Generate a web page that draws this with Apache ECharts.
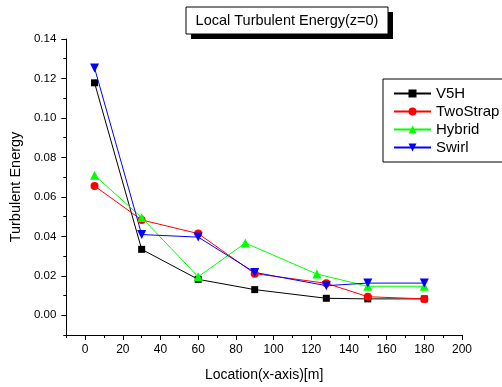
<!DOCTYPE html>
<html><head><meta charset="utf-8">
<script src="https://cdn.jsdelivr.net/npm/echarts@6/dist/echarts.min.js"></script>
<style>html,body{margin:0;padding:0;background:#fff}#c{width:502px;height:387px}</style>
</head><body><div id="c"></div>
<script>
const seriesNames = ['V5H', 'TwoStrap', 'Hybrid', 'Swirl'];
const v5h = [[5,0.1178],[30,0.0334],[60,0.0182],[90,0.0130],[128,0.0086],[150,0.0083],[180,0.0083]];
const twoStrap = [[5,0.0655],[30,0.0483],[60,0.0414],[90,0.0211],[128,0.0162],[150,0.0094],[180,0.0083]];
const hybrid = [[5,0.0709],[30,0.0495],[60,0.0195],[85,0.0366],[123,0.0209],[150,0.0147],[180,0.0147]];
const swirl = [[5,0.1253],[30,0.0409],[60,0.0396],[90,0.0217],[128,0.0150],[150,0.0163],[180,0.0163]];
const xMajor = [0,20,40,60,80,100,120,140,160,180,200];
const xMinor = [-10,10,30,50,70,90,110,130,150,170,190];
const yMajor = [0,0.02,0.04,0.06,0.08,0.10,0.12,0.14];
const yMinor = [-0.01,0.01,0.03,0.05,0.07,0.09,0.11,0.13];

const font = 'Liberation Sans, Arial, sans-serif';
const chart = echarts.init(document.getElementById('c'), null, {renderer:'canvas'});
const mk = (name, data, color, symbol, rot) => ({
  name, type:'line', data, symbol, symbolSize: symbol==='circle'?8:(symbol==='rect'?7:9), symbolRotate: rot||0,
  itemStyle:{color}, lineStyle:{color, width:1}, emphasis:{disabled:true}, animation:false
});
chart.setOption({
  animation:false,
  textStyle:{fontFamily:font},
  grid:{left:63, right:40, top:39, bottom:51},
  xAxis:[
    {type:'value', min:-10, max:200, name:'Location(x-axis)[m]', nameLocation:'middle', nameGap:33,
     nameTextStyle:{fontSize:14, color:'#000', fontFamily:font},
     axisLine:{onZero:false, lineStyle:{color:'#000', width:1}},
     axisTick:{show:true, customValues:xMajor, length:5, lineStyle:{color:'#000'}},
     axisLabel:{customValues:xMajor, color:'#000', fontSize:12, fontFamily:font, margin:9},
     splitLine:{show:false}},
    {type:'value', min:-10, max:200, position:'bottom',
     axisLine:{show:false, onZero:false},
     axisTick:{show:true, customValues:xMinor, length:3, lineStyle:{color:'#000'}},
     axisLabel:{show:false}, splitLine:{show:false}}
  ],
  yAxis:[
    {type:'value', min:-0.01, max:0.14, name:'Turbulent Energy', nameLocation:'middle', nameGap:41,
     nameTextStyle:{fontSize:14.5, color:'#000', fontFamily:font},
     axisLine:{show:true, onZero:false, lineStyle:{color:'#000', width:1}},
     axisTick:{show:true, customValues:yMajor, length:5, lineStyle:{color:'#000'}},
     axisLabel:{customValues:yMajor, color:'#000', fontSize:11.5, fontFamily:font, margin:10,
       formatter:v=>v.toFixed(2)},
     splitLine:{show:false}},
    {type:'value', min:-0.01, max:0.14, position:'left',
     axisLine:{show:false, onZero:false},
     axisTick:{show:true, customValues:yMinor, length:3, lineStyle:{color:'#000'}},
     axisLabel:{show:false}, splitLine:{show:false}}
  ],
  legend:{
    data:seriesNames, orient:'vertical', left:383, top:79,
    borderColor:'#000', borderWidth:1, padding:[7,40,7,10],
    itemWidth:37, itemHeight:10, itemGap:3,
    textStyle:{fontSize:15, color:'#000', fontFamily:font},
    selectedMode:false
  },
  graphic:[
    {type:'rect', shape:{x:191, y:12, width:202, height:27}, style:{fill:'#000'}, silent:true},
    {type:'rect', shape:{x:186, y:7, width:202, height:27}, style:{fill:'#fff', stroke:'#000', lineWidth:1}, silent:true},
    {type:'text', x:287, y:21, style:{text:'Local Turbulent Energy(z=0)', fontSize:14.5, fontFamily:font, fill:'#000', align:'center', verticalAlign:'middle'}, silent:true}
  ],
  series:[
    mk('V5H', v5h, '#000000', 'rect'),
    mk('TwoStrap', twoStrap, '#ff0000', 'circle'),
    mk('Hybrid', hybrid, '#00ff00', 'triangle'),
    mk('Swirl', swirl, '#0000ff', 'triangle', 180)
  ]
});
</script></body></html>
